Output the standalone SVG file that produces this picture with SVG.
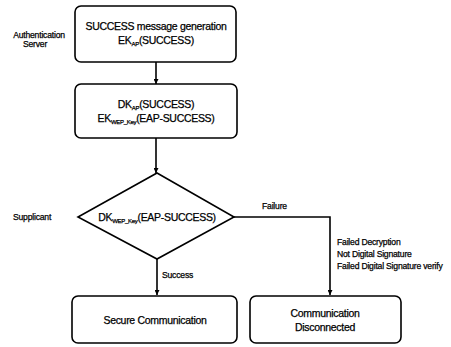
<svg xmlns="http://www.w3.org/2000/svg" width="451" height="347" viewBox="0 0 451 347">
<style>
  .box { fill: #fff; stroke: #000; stroke-width: 1.6; }
  .conn { fill: none; stroke: #000; stroke-width: 1.6; }
  text { font-family: "Liberation Sans", Arial, sans-serif; fill: #000; stroke: #000; stroke-width: 0.25; }
  .main { font-size: 10.5px; letter-spacing: -0.3px; text-anchor: middle; }
  .lbl { font-size: 8.6px; letter-spacing: -0.2px; }
  .sub { font-size: 6px; }
</style>
<defs>
  <marker id="arr" viewBox="0 0 8 8" refX="8" refY="4" markerWidth="5" markerHeight="5" orient="auto" markerUnits="userSpaceOnUse">
    <path d="M0,0 L8,4 L0,8 z" fill="#000"/>
  </marker>
</defs>
<rect width="451" height="347" fill="#fff"/>

<g id="labels">
  <text class="lbl" x="39" y="38" text-anchor="middle">Authentication</text>
  <text class="lbl" x="35" y="47" text-anchor="middle">Server</text>
  <text class="lbl" x="13" y="220">Supplicant</text>
  <text class="lbl" x="262" y="209">Failure</text>
  <text class="lbl" x="162" y="278">Success</text>
  <text class="lbl" x="337" y="245">Failed Decryption</text>
  <text class="lbl" x="337" y="257">Not Digital Signature</text>
  <text class="lbl" x="337" y="269">Failed Digital Signature verify</text>
</g>

<g id="connectors">
  <line class="conn" x1="156" y1="62" x2="156" y2="84" marker-end="url(#arr)"/>
  <line class="conn" x1="156" y1="138" x2="156" y2="173" marker-end="url(#arr)"/>
  <line class="conn" x1="157" y1="259" x2="157" y2="295" marker-end="url(#arr)"/>
  <polyline class="conn" points="234,217 330,217 330,295" marker-end="url(#arr)"/>
</g>

<g id="node-success-gen">
  <rect class="box" x="75" y="6" width="161" height="56" rx="6"/>
  <text class="main" x="156" y="30">SUCCESS message generation</text>
  <text class="main" x="156" y="44">EK<tspan class="sub" dy="2">AP</tspan><tspan dy="-2">(SUCCESS)</tspan></text>
</g>

<g id="node-decrypt">
  <rect class="box" x="75" y="84" width="162" height="54" rx="6"/>
  <text class="main" x="156" y="108">DK<tspan class="sub" dy="2">AP</tspan><tspan dy="-2">(SUCCESS)</tspan></text>
  <text class="main" x="156" y="122">EK<tspan class="sub" dy="2">WEP_Key</tspan><tspan dy="-2">(EAP-SUCCESS)</tspan></text>
</g>

<g id="node-decision">
  <polygon class="box" points="157,173 234,217 157,259 78,217"/>
  <text class="main" x="157" y="221">DK<tspan class="sub" dy="2">WEP_Key</tspan><tspan dy="-2">(EAP-SUCCESS)</tspan></text>
</g>

<g id="node-secure">
  <rect class="box" x="72" y="296" width="165" height="47" rx="6"/>
  <text class="main" x="155" y="324">Secure Communication</text>
</g>

<g id="node-disconnected">
  <rect class="box" x="250" y="296" width="151" height="47" rx="6"/>
  <text class="main" x="325" y="317">Communication</text>
  <text class="main" x="325" y="331">Disconnected</text>
</g>
</svg>
